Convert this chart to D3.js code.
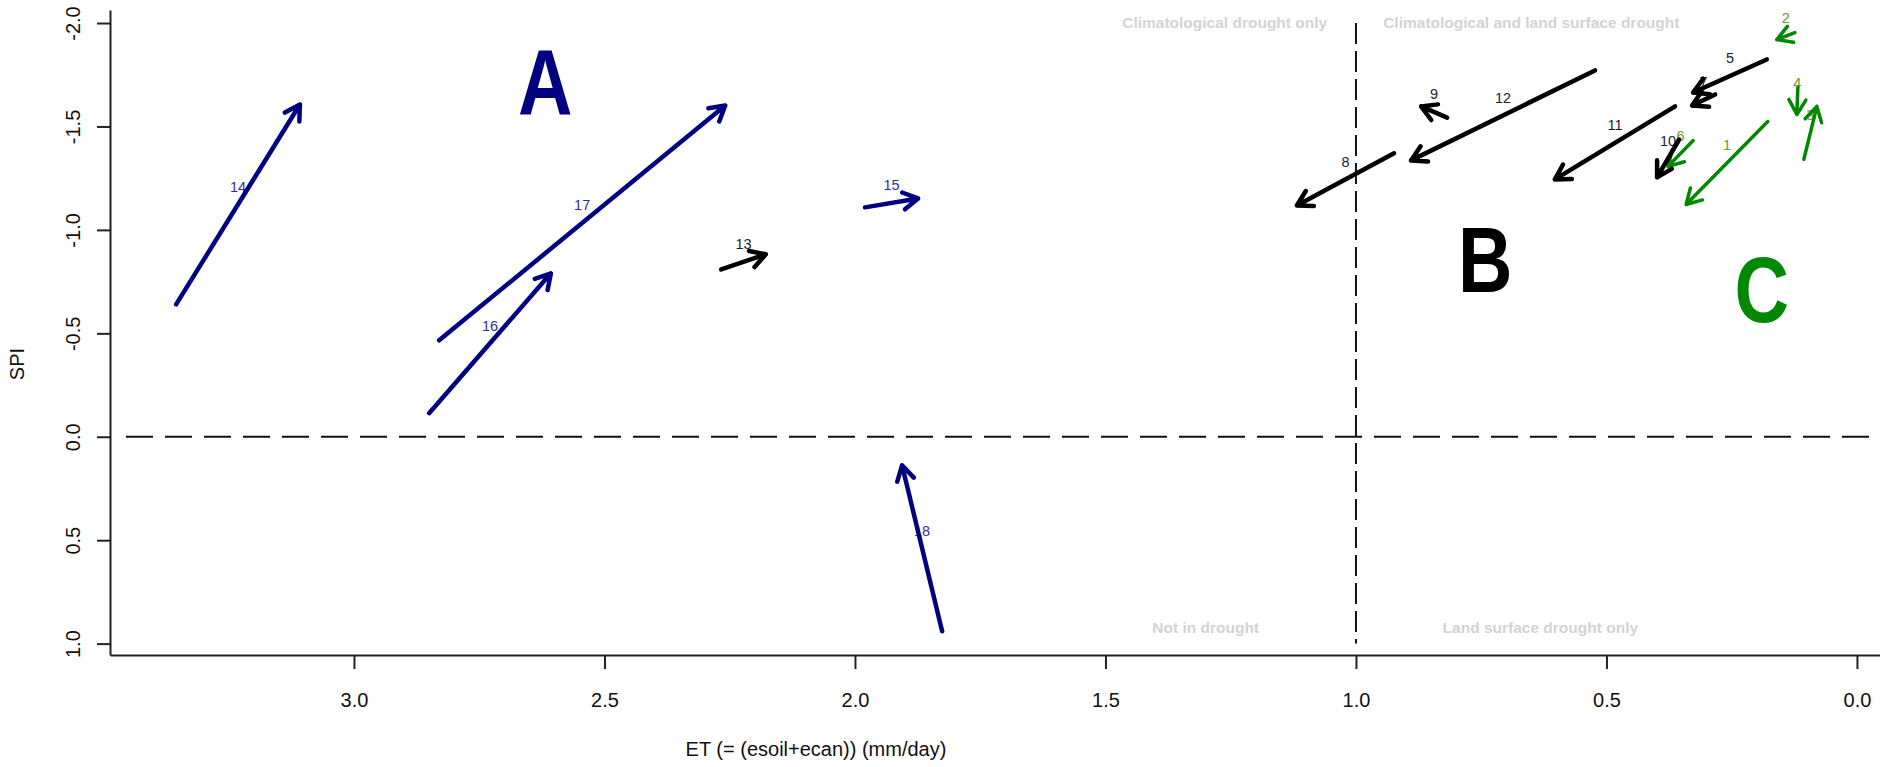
<!DOCTYPE html>
<html>
<head>
<meta charset="utf-8">
<script src="https://cdn.jsdelivr.net/npm/d3@7"></script>
<style>
  body { margin: 0; background: #fff; }
  svg { display: block; font-family: "Liberation Sans", Arial, sans-serif; }
</style>
</head>
<body>
<svg id="chart"></svg>
<script>
// Arrow data: each arrow goes from (etStart, spiStart) to (etEnd, spiEnd)
const ids      = [1, 2, 3, 4, 5, 6, 7, 8, 9, 10, 11, 12, 13, 14, 15, 16, 17, 18];
const groups   = ["C", "C", "C", "C", "B", "C", "B", "B", "B", "B", "B", "B", "B", "A", "A", "A", "A", "A"];
const etStart  = [0.178, 0.124, 0.106, 0.118, 0.180, 0.327, 0.283, 0.924, 0.818, 0.355, 0.363, 0.523, 2.267, 3.355, 1.980, 2.850, 2.830, 1.826];
const spiStart = [-1.524, -1.954, -1.341, -1.688, -1.824, -1.432, -1.655, -1.370, -1.543, -1.437, -1.597, -1.771, -0.809, -0.640, -1.109, -0.114, -0.466, 0.940];
const etEnd    = [0.341, 0.160, 0.080, 0.120, 0.327, 0.377, 0.329, 1.118, 0.870, 0.399, 0.603, 0.890, 2.178, 3.108, 1.874, 2.607, 2.259, 1.906];
const spiEnd   = [-1.123, -1.920, -1.597, -1.558, -1.664, -1.307, -1.601, -1.118, -1.597, -1.254, -1.244, -1.336, -0.882, -1.606, -1.152, -0.790, -1.601, 0.138];

const xTicks = [0, 0.5, 1.0, 1.5, 2.0, 2.5, 3.0];
const yTicks = [-2.0, -1.5, -1.0, -0.5, 0.0, 0.5, 1.0];

// Big group letters and quadrant notes
const groupNames = ["A", "B", "C"];
const groupLetterEt = [2.618, 0.742, 0.19];
const groupLetterSpi = [-1.562, -0.700, -0.556];
const quadrantText = ["Climatological drought only", "Climatological and land surface drought", "Not in drought", "Land surface drought only"];

const width = 1880;
const height = 767;

const colors = { A: "#000080", B: "#000000", C: "#008800" };
const labelColors = { A: "#30309a", B: "#1c1c30", C: "#6a9a25" };

const svg = d3.select("#chart").attr("width", width).attr("height", height);

const x = d3.scaleLinear().domain([3.487, -0.046]).range([110, 1880]);
const y = d3.scaleLinear().domain([-2.063, 1.055]).range([10, 655]);

// Axes
const xAxis = svg.append("g")
  .attr("transform", "translate(0,655)")
  .call(d3.axisBottom(x).tickValues(xTicks).tickSize(14).tickSizeOuter(0).tickFormat(d => d.toFixed(1)));
xAxis.selectAll("text")
  .attr("y", 52).attr("dy", null)
  .style("font-size", "20px").attr("fill", "#111");

const yAxis = svg.append("g")
  .attr("transform", "translate(110,0)")
  .call(d3.axisLeft(y).tickValues(yTicks).tickSize(13).tickSizeOuter(0).tickFormat(d => d.toFixed(1)));
yAxis.selectAll("text")
  .attr("x", null).attr("dy", null)
  .attr("text-anchor", "middle")
  .attr("transform", "translate(-30,0) rotate(-90)")
  .style("font-size", "20px").attr("fill", "#111");

svg.selectAll(".domain, .tick line").attr("stroke", "#222").attr("stroke-width", 2);

// Axis titles
svg.append("text")
  .attr("x", 816).attr("y", 756)
  .attr("text-anchor", "middle")
  .style("font-size", "20px").attr("fill", "#111")
  .text("ET (= (esoil+ecan)) (mm/day)");

svg.append("text")
  .attr("transform", "translate(24,364) rotate(-90)")
  .attr("text-anchor", "middle")
  .style("font-size", "20px").attr("fill", "#111")
  .text("SPI");

// Reference lines
svg.append("line")
  .attr("x1", 126).attr("x2", width)
  .attr("y1", y(0)).attr("y2", y(0))
  .attr("stroke", "#111").attr("stroke-width", 2)
  .attr("stroke-dasharray", "27,12");

svg.append("line")
  .attr("x1", x(1)).attr("x2", x(1))
  .attr("y1", y(-2)).attr("y2", y(1))
  .attr("stroke", "#111").attr("stroke-width", 2)
  .attr("stroke-dasharray", "21,7");

// Quadrant notes
const quadPos = [
  { x: x(1.262), y: 28 },
  { x: x(0.65), y: 28 },
  { x: x(1.3), y: 633 },
  { x: x(0.632), y: 633 }
];
svg.selectAll(".quad")
  .data(quadrantText)
  .enter()
  .append("text")
  .attr("class", "quad")
  .attr("x", (d, i) => quadPos[i].x)
  .attr("y", (d, i) => quadPos[i].y)
  .attr("text-anchor", "middle")
  .style("font-size", "15.5px")
  .style("font-weight", "bold")
  .attr("fill", "#d3d3d3")
  .text(d => d);

// Group letters
svg.selectAll(".letter")
  .data(groupNames)
  .enter()
  .append("text")
  .attr("class", "letter")
  .attr("transform", (d, i) => `translate(${x(groupLetterEt[i])},${y(groupLetterSpi[i])}) scale(0.82,1)`)
  .attr("text-anchor", "middle")
  .style("font-size", "92px")
  .style("font-weight", "bold")
  .attr("fill", d => colors[d])
  .text(d => d);

const arrows = ids.map((id, i) => ({
  id: id,
  g: groups[i],
  x0: x(etStart[i]), y0: y(spiStart[i]),
  x1: x(etEnd[i]), y1: y(spiEnd[i])
}));

// Labels first, arrows drawn over them
svg.selectAll(".num")
  .data(arrows)
  .enter()
  .append("text")
  .attr("class", "num")
  .attr("x", d => (d.x0 + d.x1) / 2)
  .attr("y", d => (d.y0 + d.y1) / 2 - 12.7)
  .attr("text-anchor", "middle")
  .style("font-size", "14.5px")
  .attr("fill", d => labelColors[d.g])
  .text(d => d.id);

const headLen = 17;
const headAng = Math.PI / 6;
function arrowPath(d) {
  const a = Math.atan2(d.y1 - d.y0, d.x1 - d.x0);
  const b1x = d.x1 - headLen * Math.cos(a - headAng);
  const b1y = d.y1 - headLen * Math.sin(a - headAng);
  const b2x = d.x1 - headLen * Math.cos(a + headAng);
  const b2y = d.y1 - headLen * Math.sin(a + headAng);
  return `M${d.x0},${d.y0}L${d.x1},${d.y1}M${b1x},${b1y}L${d.x1},${d.y1}L${b2x},${b2y}`;
}

svg.selectAll(".arrow")
  .data(arrows)
  .enter()
  .append("path")
  .attr("class", "arrow")
  .attr("d", arrowPath)
  .attr("fill", "none")
  .attr("stroke", d => colors[d.g])
  .attr("stroke-width", d => d.g === "C" ? 3.5 : 4.5)
  .attr("stroke-linecap", "round")
  .attr("stroke-linejoin", "round");
</script>
</body>
</html>
